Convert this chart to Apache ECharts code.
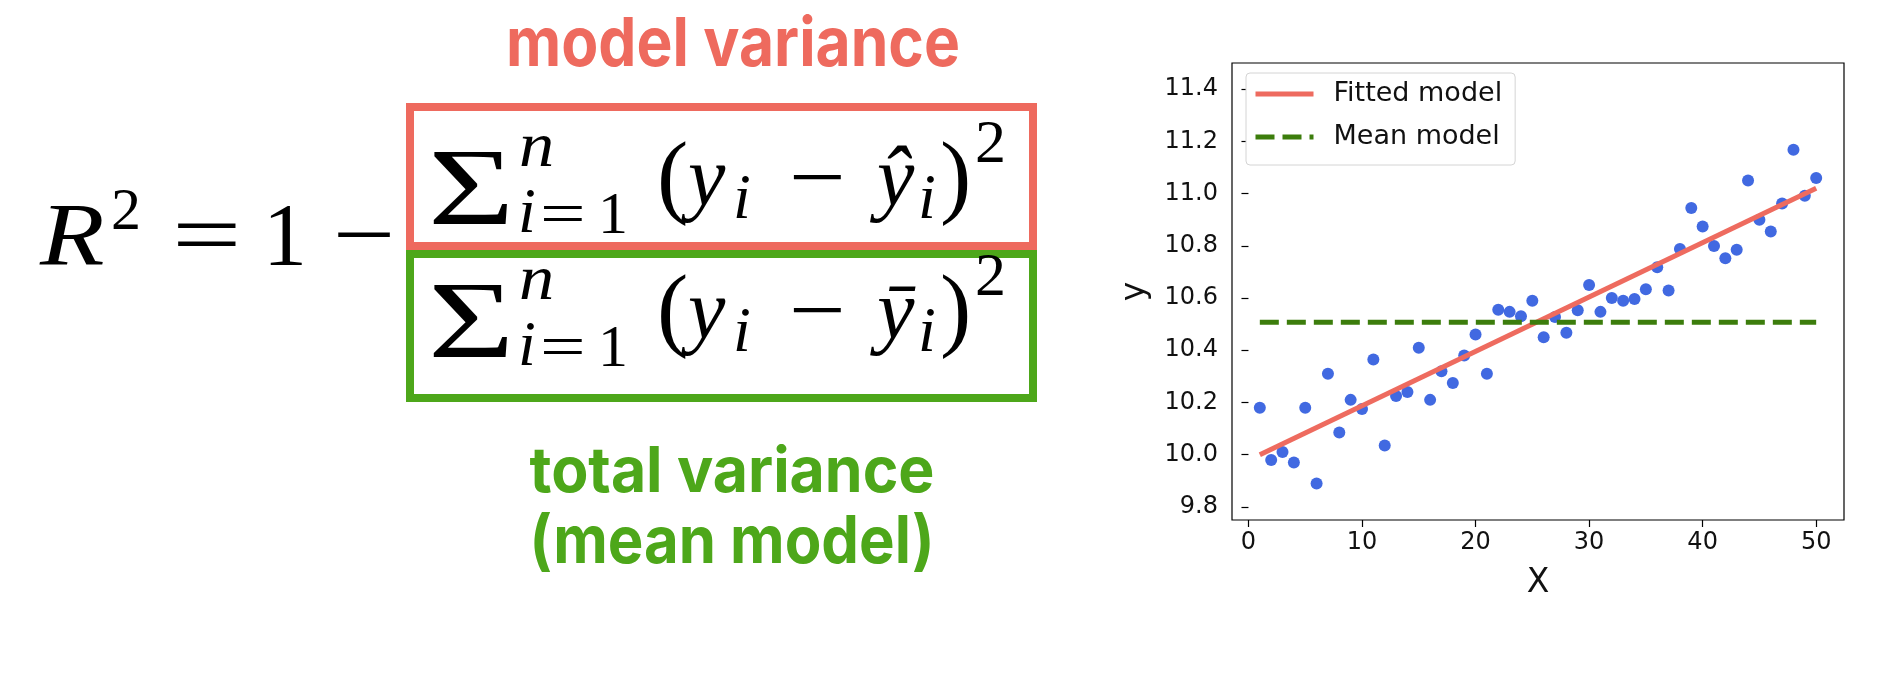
<!DOCTYPE html>
<html><head><meta charset="utf-8">
<script src="https://cdn.jsdelivr.net/npm/echarts@6/dist/echarts.min.js"></script>
<style>html,body{margin:0;padding:0;background:#fff}#c{width:1898px;height:674px}</style>
</head><body><div id="c"></div>
<script>
// ---------- data ----------
const xValues = [1,2,3,4,5,6,7,8,9,10,11,12,13,14,15,16,17,18,19,20,21,22,23,24,25,26,27,28,29,30,31,32,33,34,35,36,37,38,39,40,41,42,43,44,45,46,47,48,49,50];
const yValues = [10.18,9.98,10.01,9.97,10.18,9.89,10.31,10.085,10.21,10.175,10.365,10.035,10.225,10.24,10.41,10.21,10.32,10.275,10.38,10.46,10.31,10.555,10.547,10.53,10.59,10.45,10.527,10.467,10.553,10.65,10.547,10.6,10.59,10.596,10.634,10.718,10.629,10.788,10.945,10.874,10.799,10.752,10.785,11.05,10.9,10.855,10.962,11.168,10.992,11.06];
const fittedX = [1, 50];
const fittedY = [10.0, 11.02];
const meanX = [1, 50];
const meanY = [10.507, 10.507];
const xTicks = [0, 10, 20, 30, 40, 50];
const yTicks = [9.8, 10.0, 10.2, 10.4, 10.6, 10.8, 11.0, 11.2, 11.4];
const seriesNames = ['Fitted model', 'Mean model'];
const xName = 'X';
const yName = 'y';
const topLabel = 'model variance';
const bottomLabel1 = 'total variance';
const bottomLabel2 = '(mean model)';

// ---------- colours ----------
const RED = '#EE6A5E';
const GREEN = '#4DA71A';
const LINE_RED = '#EE6B5F';
const LINE_GREEN = '#3C7D0C';
const BLUE = '#4169E1';

// ---------- helpers ----------
const SERIF = '"Liberation Serif", "DejaVu Serif", serif';
function T(text, x, base, size, opt) {
  opt = opt || {};
  const family = opt.family || SERIF;
  const k = opt.k != null ? opt.k : 0.3375;
  return {
    type: 'text', x: x, y: base - k * size,
    scaleX: opt.sx || 1, scaleY: opt.sy || 1, silent: true,
    style: {
      text: text, x: 0, y: 0, fill: opt.color || '#000',
      font: (opt.italic ? 'italic ' : '') + (opt.weight || 'normal') + ' ' + size + 'px ' + family,
      align: opt.align || 'left', verticalAlign: 'middle'
    }
  };
}
const mctx = document.createElement('canvas').getContext('2d');
function fitText(text, cx, base, size, width, color) {
  const font = 'bold ' + size + 'px Inter';
  mctx.font = font;
  const w = mctx.measureText(text).width;
  return {
    type: 'text', x: cx, y: base - 0.363 * size, scaleX: width / w, silent: true,
    style: { text: text, x: 0, y: 0, font: font, fill: color, align: 'center', verticalAlign: 'middle' }
  };
}
function sumRow(base, yChar) {
  const d = base - 211;
  return [
    T('Σ', 428, 232 + d, 110, { sx: 1.35 }),
    T('n', 519, 171 + d, 64, { italic: true, sx: 1.1 }),
    T('i', 518, 237 + d, 64, { italic: true }),
    T('=', 540, 237 + d, 60, { sx: 1.35 }),
    T('1', 598, 237 + d, 60),
    T('(', 657, 213 + d, 94),
    T('y', 688, 211 + d, 84, { italic: true }),
    T('i', 733, 223 + d, 64, { italic: true }),
    T('\u2212', 789, 211 + d, 84, { sx: 1.2 }),
    T(yChar, 877, 211 + d, 84, { italic: true }),
    T('i', 918, 223 + d, 64, { italic: true }),
    T(')', 940, 213 + d, 94),
    T('2', 975, 167 + d, 62)
  ];
}

const elements = [
  // boxes
  { type: 'rect', silent: true, shape: { x: 410, y: 107, width: 623, height: 139 }, style: { fill: 'none', stroke: RED, lineWidth: 8 } },
  { type: 'rect', silent: true, shape: { x: 410, y: 254, width: 623, height: 144 }, style: { fill: 'none', stroke: GREEN, lineWidth: 8 } },
  // left part
  T('R', 40, 271, 88, { italic: true, sx: 1.2 }),
  T('2', 111, 233, 60),
  T('=', 172, 271, 88, { sx: 1.4 }),
  T('1', 263, 271, 88),
  T('\u2212', 333, 271, 88, { sx: 1.26 })
].concat(sumRow(211, 'ŷ')).concat(sumRow(344, 'ȳ')).concat([
  fitText(topLabel, 733, 70, 68, 454, RED),
  fitText(bottomLabel1, 732, 496, 63, 405, GREEN),
  fitText(bottomLabel2, 732, 567, 66, 405, GREEN)
]);

const chart = echarts.init(document.getElementById('c'), null, { renderer: 'canvas' });
const axisFont = 'DejaVu Sans';
chart.setOption({
  animation: false,
  backgroundColor: '#fff',
  graphic: { elements: elements },
  grid: { left: 1232, top: 63, width: 612, height: 457, show: true, borderColor: '#000', borderWidth: 1.2, backgroundColor: 'transparent' },
  legend: {
    data: seriesNames, orient: 'vertical', left: 1246, top: 73,
    padding: [4, 13, 11, 7], itemGap: 9, itemWidth: 58, itemHeight: 14,
    backgroundColor: '#fff', borderColor: '#d4d4d4', borderWidth: 1, borderRadius: 4,
    itemStyle: { opacity: 0 },
    lineStyle: { width: 5 },
    textStyle: { fontFamily: axisFont, fontSize: 27, color: '#111', lineHeight: 34, padding: [0, 0, 0, 15] },
    selectedMode: false
  },
  xAxis: {
    type: 'value', min: -1.45, max: 52.45,
    axisLine: { show: false }, splitLine: { show: false },
    axisTick: { show: true, customValues: xTicks, length: 7, lineStyle: { color: '#000', width: 1.2 } },
    axisLabel: { customValues: xTicks, fontFamily: axisFont, fontSize: 24, color: '#111', margin: 11 },
    name: xName, nameLocation: 'middle', nameGap: 47,
    nameTextStyle: { fontFamily: axisFont, fontSize: 33, color: '#111' }
  },
  yAxis: {
    type: 'value', min: 9.75, max: 11.5,
    axisLine: { show: false }, splitLine: { show: false },
    axisTick: { show: true, customValues: yTicks, length: 7, lineStyle: { color: '#000', width: 1.2 } },
    axisLabel: { customValues: yTicks, formatter: function (v) { return v.toFixed(1); }, fontFamily: axisFont, fontSize: 24, color: '#111', margin: 14 },
    name: yName, nameLocation: 'middle', nameRotate: 90, nameGap: 80,
    nameTextStyle: { fontFamily: axisFont, fontSize: 33, color: '#111' }
  },
  series: [
    { type: 'scatter', name: 'points', data: xValues.map(function (x, i) { return [x, yValues[i]]; }),
      symbolSize: 12, itemStyle: { color: BLUE, opacity: 1 }, z: 2, silent: true },
    { type: 'line', name: seriesNames[0], data: fittedX.map(function (x, i) { return [x, fittedY[i]]; }),
      symbol: 'none', lineStyle: { color: LINE_RED, width: 5 }, itemStyle: { color: LINE_RED }, z: 3, silent: true },
    { type: 'line', name: seriesNames[1], data: meanX.map(function (x, i) { return [x, meanY[i]]; }),
      symbol: 'none', lineStyle: { color: LINE_GREEN, width: 5, type: [19, 8] }, itemStyle: { color: LINE_GREEN }, z: 4, silent: true }
  ]
});
</script>
</body></html>
